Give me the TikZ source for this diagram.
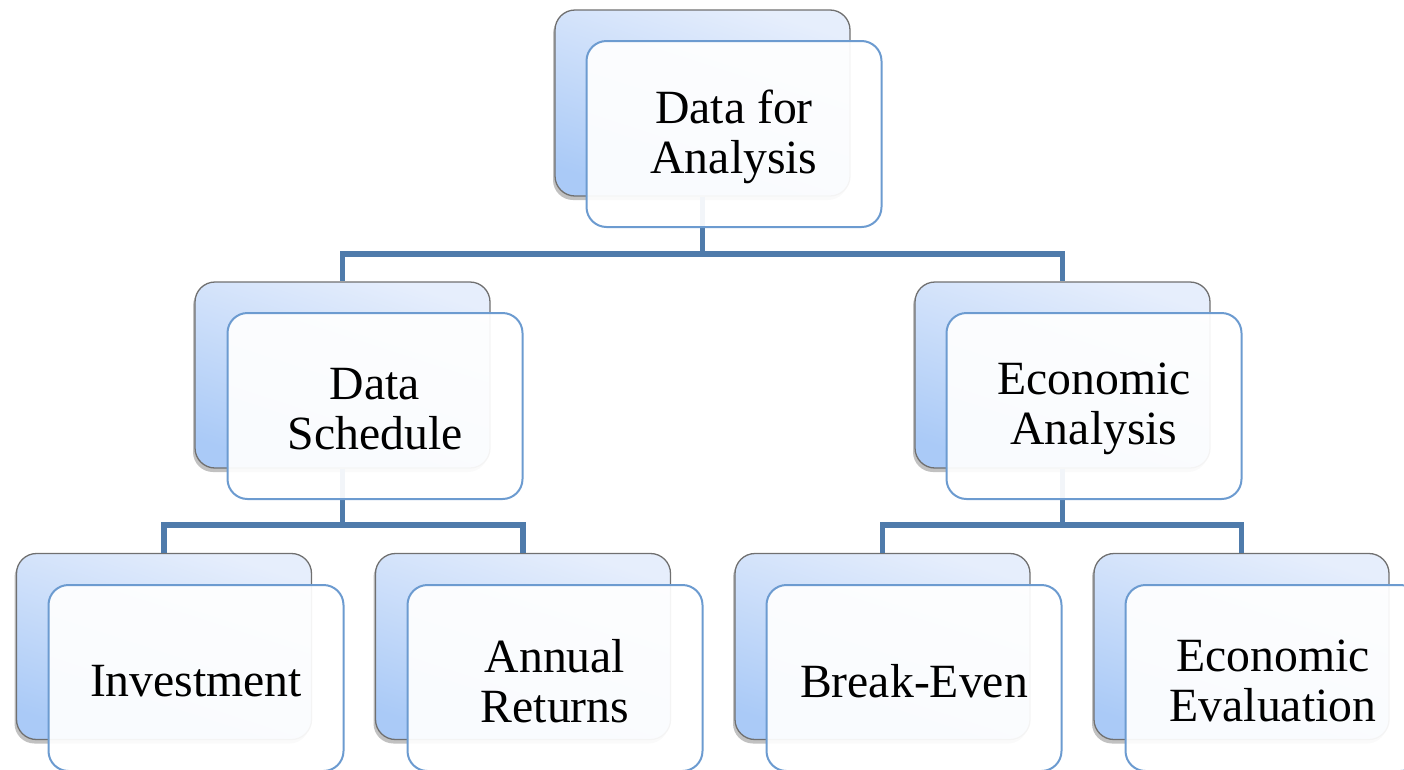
\documentclass[tikz,border=0pt]{standalone}
\usepackage{fontspec}
\setmainfont{Liberation Serif}
\usetikzlibrary{shadows,calc}
\definecolor{linkblue}{HTML}{4F7BAB}
\definecolor{frameblue}{HTML}{6C9BD0}
\definecolor{backtop}{HTML}{E6EEFC}
\definecolor{backbot}{HTML}{AACAF7}
\definecolor{backedge}{HTML}{707070}
\tikzset{
  backbox/.style={rectangle, rounded corners=20pt, minimum width=295pt,
    minimum height=186pt, inner sep=0pt, draw=backedge, line width=1.3pt,
    top color=backtop, bottom color=backbot, shading angle=-18,
    drop shadow={shadow xshift=-2pt, shadow yshift=-4pt, opacity=0.35, fill=black!70}},
  frontbox/.style={rectangle, rounded corners=20pt, minimum width=295pt,
    minimum height=186pt, inner sep=0pt, draw=frameblue, line width=2pt,
    fill=white, fill opacity=0.93},
  cardtext/.style={align=center, text=black, fill opacity=1, text opacity=1,
    yshift=-3pt, font=\fontsize{47.7}{50}\selectfont},
  link/.style={draw=linkblue, line width=5.5pt}
}
\begin{document}
\begin{tikzpicture}[x=1pt, y=-1pt]
\useasboundingbox (0,0) rectangle (1404,769);
\begin{scope}
\clip (0,0) rectangle (1404,769);
% back plates
\node[backbox] (rootB) at (702.5,103) {};
\node[backbox] (schedB) at (342.5,375) {};
\node[backbox] (econB) at (1062.5,375) {};
\node[backbox] (invB) at (164,646.5) {};
\node[backbox] (retB) at (523,646.5) {};
\node[backbox] (beB) at (882.5,646.5) {};
\node[backbox] (evalB) at (1241.5,646.5) {};
% bus levels
\coordinate (bus1) at (0,254);
\coordinate (bus2) at (0,525);
% connectors
\draw[link] (rootB.south) -- (rootB.south |- bus1) -| (schedB.north);
\draw[link] (rootB.south |- bus1) -| (econB.north);
\draw[link] (schedB.south) -- (schedB.south |- bus2) -| (invB.north);
\draw[link] (schedB.south |- bus2) -| (retB.north);
\draw[link] (econB.south) -- (econB.south |- bus2) -| (beB.north);
\draw[link] (econB.south |- bus2) -| (evalB.north);
% front cards with labels
\node[frontbox, label={[cardtext]center:{Data for\\Analysis}}] (root) at ($(rootB)+(31.5,31)$) {};
\node[frontbox, label={[cardtext]center:{Data\\Schedule}}] (sched) at ($(schedB)+(32.5,31)$) {};
\node[frontbox, label={[cardtext]center:{Economic\\Analysis}}] (econ) at ($(econB)+(31.5,31)$) {};
\node[frontbox, label={[cardtext]center:{Investment}}] (inv) at ($(invB)+(32,31.5)$) {};
\node[frontbox, label={[cardtext]center:{Annual\\Returns}}] (ret) at ($(retB)+(32,31.5)$) {};
\node[frontbox, label={[cardtext]center:{Break-Even}}] (be) at ($(beB)+(31.5,31.5)$) {};
\node[frontbox, label={[cardtext]center:{Economic\\Evaluation}}] (eval) at ($(evalB)+(31.5,31.5)$) {};
\end{scope}
\end{tikzpicture}
\end{document}
